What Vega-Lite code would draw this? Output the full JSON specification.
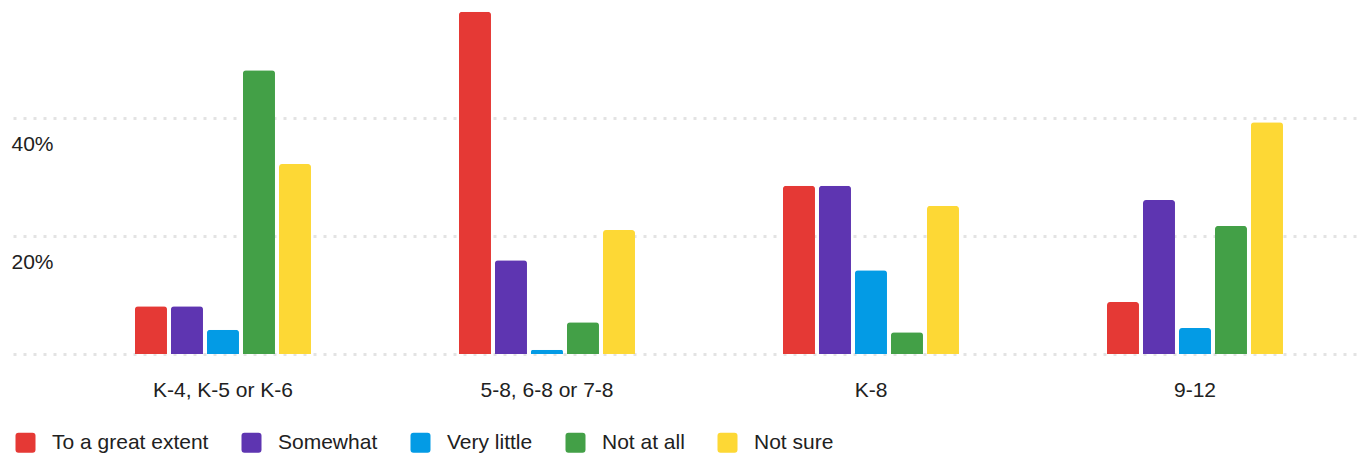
{
  "$schema": "https://vega.github.io/schema/vega-lite/v6.json",
  "width": 1344,
  "height": 354,
  "autosize": {"type": "none"},
  "padding": {"left": 13, "top": 0, "right": 3, "bottom": 104},
  "background": "white",
  "config": {
    "view": {"stroke": null},
    "font": "Arial, Liberation Sans, sans-serif",
    "axis": {"labelColor": "#212121", "labelFont": "Arial, Liberation Sans, sans-serif", "labelFontSize": 21}
  },
  "data": {
    "values": [
      {"grade": "K-4, K-5 or K-6", "answer": "To a great extent", "pct": 8.1},
      {"grade": "K-4, K-5 or K-6", "answer": "Somewhat", "pct": 8.1},
      {"grade": "K-4, K-5 or K-6", "answer": "Very little", "pct": 4.1},
      {"grade": "K-4, K-5 or K-6", "answer": "Not at all", "pct": 48.1},
      {"grade": "K-4, K-5 or K-6", "answer": "Not sure", "pct": 32.2},
      {"grade": "5-8, 6-8 or 7-8", "answer": "To a great extent", "pct": 58.0},
      {"grade": "5-8, 6-8 or 7-8", "answer": "Somewhat", "pct": 15.9},
      {"grade": "5-8, 6-8 or 7-8", "answer": "Very little", "pct": 0.7},
      {"grade": "5-8, 6-8 or 7-8", "answer": "Not at all", "pct": 5.4},
      {"grade": "5-8, 6-8 or 7-8", "answer": "Not sure", "pct": 21.0},
      {"grade": "K-8", "answer": "To a great extent", "pct": 28.5},
      {"grade": "K-8", "answer": "Somewhat", "pct": 28.5},
      {"grade": "K-8", "answer": "Very little", "pct": 14.2},
      {"grade": "K-8", "answer": "Not at all", "pct": 3.7},
      {"grade": "K-8", "answer": "Not sure", "pct": 25.1},
      {"grade": "9-12", "answer": "To a great extent", "pct": 8.8},
      {"grade": "9-12", "answer": "Somewhat", "pct": 26.1},
      {"grade": "9-12", "answer": "Very little", "pct": 4.4},
      {"grade": "9-12", "answer": "Not at all", "pct": 21.7},
      {"grade": "9-12", "answer": "Not sure", "pct": 39.3}
    ]
  },
  "mark": {"type": "bar", "cornerRadiusTopLeft": 3, "cornerRadiusTopRight": 3},
  "encoding": {
    "x": {
      "field": "grade",
      "type": "nominal",
      "sort": null,
      "scale": {"paddingInner": 0.45679, "paddingOuter": 0.30247, "align": 0.6224},
      "axis": {
        "title": null,
        "domain": false,
        "ticks": false,
        "tickSize": 0,
        "labelAngle": 0,
        "labelBaseline": "alphabetic",
        "labelPadding": 42,
        "grid": false
      }
    },
    "xOffset": {
      "field": "answer",
      "type": "nominal",
      "sort": ["To a great extent", "Somewhat", "Very little", "Not at all", "Not sure"],
      "scale": {"paddingInner": 0.1111, "paddingOuter": 0}
    },
    "y": {
      "field": "pct",
      "type": "quantitative",
      "scale": {"domain": [0, 60], "nice": false},
      "axis": {
        "title": null,
        "domain": false,
        "ticks": false,
        "tickSize": 0,
        "values": [0, 20, 40],
        "labelExpr": "datum.value == 0 ? '' : datum.value + '%'",
        "labelAlign": "left",
        "labelBaseline": "alphabetic",
        "labelPadding": 2,
        "labelOffset": 32,
        "grid": true,
        "gridColor": "#e3e3e3",
        "gridWidth": 3,
        "gridDash": [3, 7]
      }
    },
    "color": {
      "field": "answer",
      "type": "nominal",
      "sort": ["To a great extent", "Somewhat", "Very little", "Not at all", "Not sure"],
      "scale": {
        "domain": ["To a great extent", "Somewhat", "Very little", "Not at all", "Not sure"],
        "range": ["#e53935", "#5e35b1", "#039be5", "#43a047", "#fdd835"]
      },
      "legend": {
        "title": null,
        "orient": "none",
        "direction": "horizontal",
        "legendX": 2,
        "legendY": 432,
        "padding": 0,
        "symbolType": "M-1,-0.7 Q-1,-1 -0.7,-1 L0.7,-1 Q1,-1 1,-0.7 L1,0.7 Q1,1 0.7,1 L-0.7,1 Q-1,1 -1,0.7 Z",
        "symbolSize": 400,
        "symbolStrokeWidth": 0,
        "labelFont": "Arial, Liberation Sans, sans-serif",
        "labelFontSize": 21,
        "labelColor": "#212121",
        "labelOffset": 16,
        "columnPadding": 32
      }
    }
  }
}
